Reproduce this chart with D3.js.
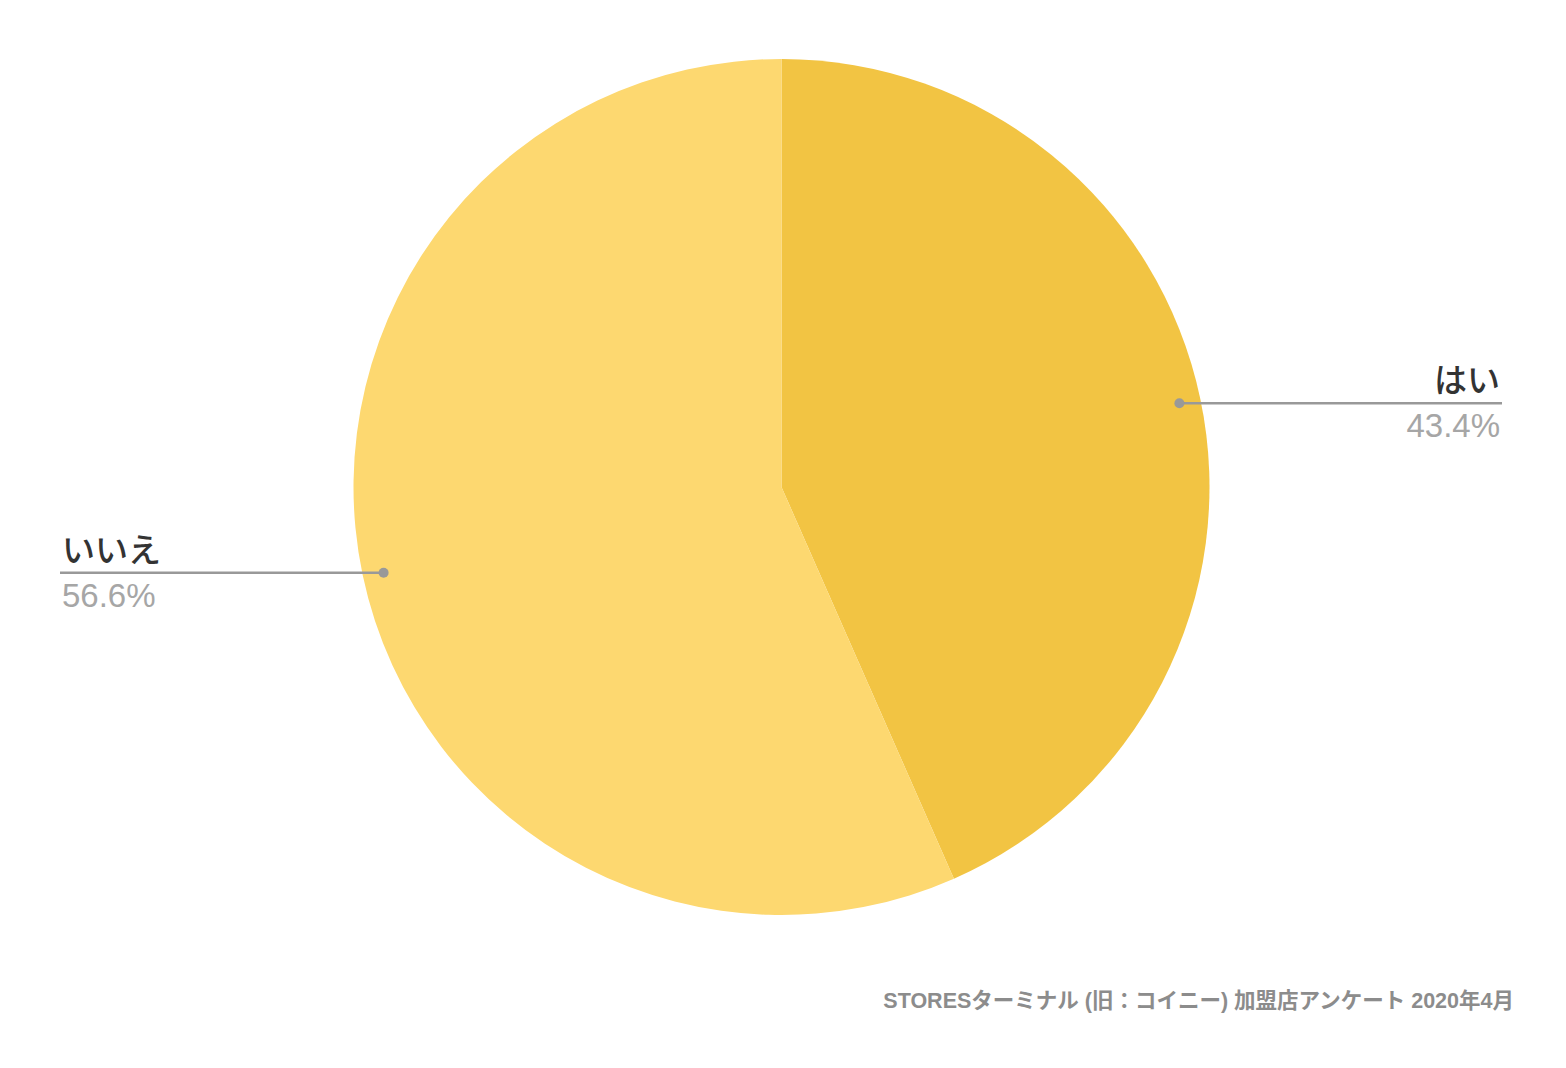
<!DOCTYPE html>
<html>
<head>
<meta charset="utf-8">
<script src="https://cdn.jsdelivr.net/npm/d3@7"></script>
<style>
  body { margin: 0; background: #fff; }
  text { font-family: "Liberation Sans", Arial, "Noto Sans CJK JP", sans-serif; }
</style>
</head>
<body>
<script>
// survey answers and their share (%)
const labels = ["はい", "いいえ"];
const values = [43.4, 56.6];
const colors = ["#f2c443", "#fdd870"];
const source = "STORESターミナル (旧：コイニー) 加盟店アンケート 2020年4月";

const width = 1566, height = 1068;
const cx = 781.5, cy = 487, radius = 428;

const svg = d3.select("body").append("svg")
    .attr("width", width)
    .attr("height", height);

const pie = d3.pie().sort(null).value(d => d.value);
const arcs = pie(labels.map((l, i) => ({label: l, value: values[i], color: colors[i]})));

const arc = d3.arc().innerRadius(0).outerRadius(radius);

const g = svg.append("g").attr("transform", `translate(${cx},${cy})`);

g.selectAll("path")
  .data(arcs)
  .join("path")
    .attr("d", arc)
    .attr("fill", d => d.data.color);

// leader lines: dot inside the slice, line out to the side, label above, value below
const dotR = radius * 0.95;
const lineEnd = [1502, 60];

arcs.forEach((d, i) => {
  const mid = (d.startAngle + d.endAngle) / 2;
  const x = cx + dotR * Math.sin(mid);
  const y = cy - dotR * Math.cos(mid) + (i == 1 ? 2 : 0);
  const right = x > cx;
  const ex = right ? lineEnd[0] : lineEnd[1];

  svg.append("line")
      .attr("x1", x).attr("y1", y)
      .attr("x2", ex).attr("y2", y)
      .attr("stroke", "#999")
      .attr("stroke-width", 2.5);

  svg.append("circle")
      .attr("cx", x).attr("cy", y)
      .attr("r", 5)
      .attr("fill", "#999");

  svg.append("text")
      .attr("x", right ? ex - 2 : ex + 2)
      .attr("y", y - 11)
      .attr("text-anchor", right ? "end" : "start")
      .attr("fill", "#333")
      .style("font-family", "'Noto Sans CJK JP', sans-serif")
      .style("font-size", "33px")
      .style("font-weight", 500)
      .text(d.data.label);

  svg.append("text")
      .attr("x", right ? ex - 2 : ex + 2)
      .attr("y", y + 34)
      .attr("text-anchor", right ? "end" : "start")
      .attr("fill", "#a6a6a6")
      .style("font-size", "33px")
      .text(d.data.value.toFixed(1) + "%");
});

svg.append("text")
    .attr("x", 1514)
    .attr("y", 1008)
    .attr("text-anchor", "end")
    .attr("fill", "#8c8c8c")
    .style("font-size", "21.5px")
    .style("font-weight", "bold")
    .text(source);
</script>
</body>
</html>
